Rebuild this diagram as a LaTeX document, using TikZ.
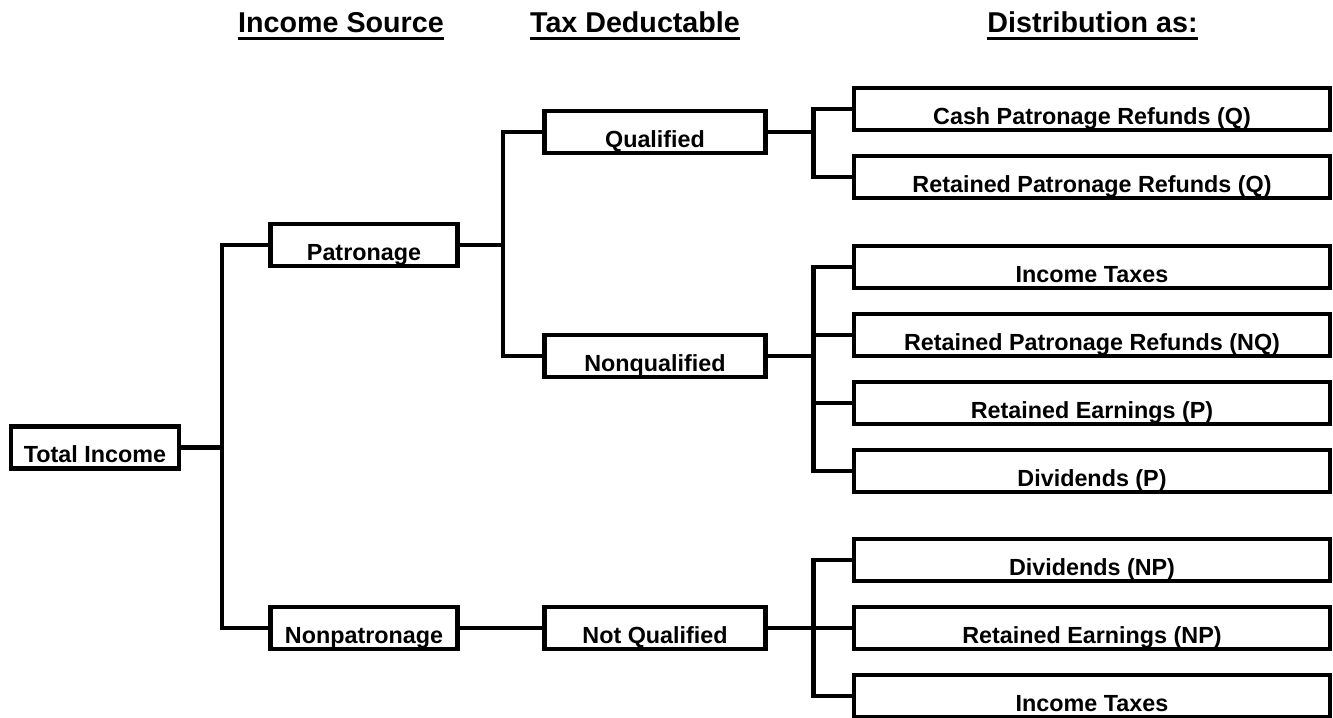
\documentclass[tikz,border=0pt]{standalone}
\usepackage{fontspec}
\setmainfont{Liberation Sans}
\usetikzlibrary{positioning, calc}

\begin{document}
\begin{tikzpicture}[x=0.75pt, y=-0.75pt,
  box/.style={draw, line width=3.5pt, rectangle, inner sep=0pt,
              text height=27pt, text depth=4.5pt,
              font=\fontsize{17.5}{20}\selectfont\bfseries},
  dist/.style={box, minimum width=357pt},
  head/.style={anchor=base, inner sep=0pt,
               font=\fontsize{21.5}{25}\selectfont\bfseries},
  headline/.style={line width=2.5pt},
  link/.style={line width=3.2pt},
]
\useasboundingbox (0,0) rectangle (1333,717);

% Headings
\node[head] (hsrc) at (341,33) {Income Source};
\node[head] (htax) at (635,33) {Tax Deductable};
\node[head] (hdist) at (1092.5,33) {Distribution as:};
\foreach \h in {hsrc, htax, hdist}
  \draw[headline] ([yshift=-4.25pt]\h.base west) -- ([yshift=-4.25pt]\h.base east);

% Source and tax columns
\node[box, minimum width=126pt] (tot) at (95,447.5) {Total Income};
\node[box, minimum width=140.5pt] (pat) at (364,245) {Patronage};
\node[box, minimum width=140.5pt] (npat) at (364,628) {Nonpatronage};
\node[box, minimum width=165.5pt] (qual) at (655,132) {Qualified};
\node[box, minimum width=165.5pt] (nqual) at (655,356) {Nonqualified};
\node[box, minimum width=165.5pt] (notq) at (655,628) {Not Qualified};

% Distribution column
\node[dist] (cashq) at (1092,109) {Cash Patronage Refunds (Q)};
\node[dist] (retq) at (1092,177) {Retained Patronage Refunds (Q)};
\node[dist] (taxp) at (1092,267) {Income Taxes};
\node[dist] (retnq) at (1092,335) {Retained Patronage Refunds (NQ)};
\node[dist] (earnp) at (1092,403) {Retained Earnings (P)};
\node[dist] (divp) at (1092,471) {Dividends (P)};
\node[dist] (divnp) at (1092,560) {Dividends (NP)};
\node[dist] (earnnp) at (1092,628) {Retained Earnings (NP)};
\node[dist] (taxnp) at (1092,696) {Income Taxes};

% Junctions
\coordinate (j1) at (222,447.5);
\coordinate (j2) at (503,245);
\coordinate (j3) at (813.5,132);
\coordinate (j4) at (813.5,356);
\coordinate (j5) at (813.5,628);

% Connectors
\draw[link] (tot) -- (j1) |- (pat);
\draw[link] (j1) |- (npat);
\draw[link] (pat) -- (j2) |- (qual);
\draw[link] (j2) |- (nqual);
\draw[link] (npat) -- (notq);
\draw[link] (qual) -- (j3) |- (cashq);
\draw[link] (j3) |- (retq);
\draw[link] (nqual) -- (j4) |- (taxp);
\draw[link] (j4) |- (retnq);
\draw[link] (j4) |- (earnp);
\draw[link] (j4) |- (divp);
\draw[link] (notq) -- (j5) |- (divnp);
\draw[link] (j5) |- (earnnp);
\draw[link] (j5) |- (taxnp);
\end{tikzpicture}
\end{document}
